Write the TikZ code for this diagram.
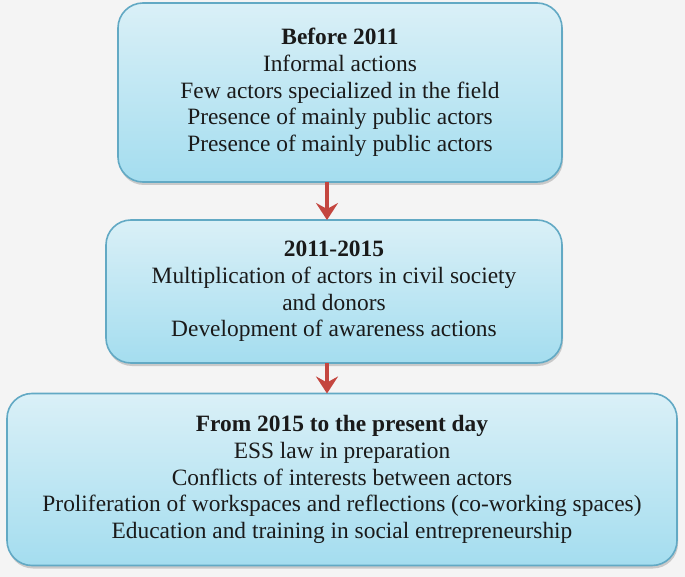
\documentclass[tikz,border=0pt]{standalone}
\usepackage{fontspec}
\setmainfont{Liberation Serif}
\usetikzlibrary{arrows.meta,shadows}
\definecolor{bgc}{HTML}{F4F4F4}
\definecolor{boxtop}{HTML}{DAF0F7}
\definecolor{boxbot}{HTML}{A4DDEF}
\definecolor{boxline}{HTML}{62A9C4}
\definecolor{arrc}{HTML}{C4463F}
\definecolor{txt}{HTML}{1A1A1A}
\tikzset{
  stagebox/.style={rounded corners=25pt, draw=boxline, line width=1.6pt,
    top color=boxtop, bottom color=boxbot, inner sep=0pt, outer sep=0pt,
    align=center, text=txt,
    font=\fontsize{23.4}{26.7}\selectfont,
    drop shadow={shadow xshift=1pt, shadow yshift=-3pt, opacity=0.3, fill=black!60}},
  flowarrow/.style={draw=arrc, line width=3.2pt,
    -{Stealth[length=17pt, width=22pt, inset=6pt]}}
}
\begin{document}
\begin{tikzpicture}[x=1pt,y=-1pt]
\fill[bgc] (0,0) rectangle (685,577);
\useasboundingbox (0,0) rectangle (685,577);
\node[stagebox, minimum width=444pt, minimum height=179pt] (b1) at (340,92.5)
  {\textbf{Before 2011}\\Informal actions\\Few actors specialized in the field\\Presence of mainly public actors\\Presence of mainly public actors};
\node[stagebox, minimum width=456pt, minimum height=143pt] (b2) at (334,291.5)
  {\textbf{2011-2015}\\Multiplication of actors in civil society\\and donors\\Development of awareness actions};
\node[stagebox, minimum width=670pt, minimum height=172pt] (b3) at (342,479.5)
  {\textbf{From 2015 to the present day}\\ESS law in preparation\\Conflicts of interests between actors\\Proliferation of workspaces and reflections (co-working spaces)\\Education and training in social entrepreneurship};
\coordinate (ax) at (327,0);
\draw[flowarrow] (b1.south -| ax) -- (b2.north -| ax);
\draw[flowarrow] (b2.south -| ax) -- (b3.north -| ax);
\end{tikzpicture}
\end{document}
